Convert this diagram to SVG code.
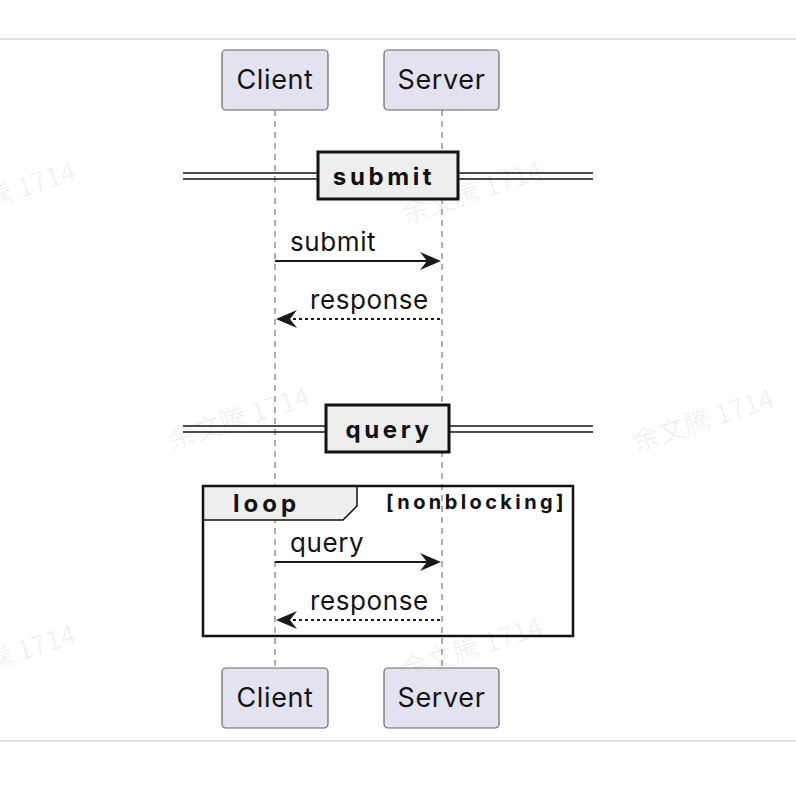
<svg xmlns="http://www.w3.org/2000/svg" width="796" height="790" viewBox="0 0 796 790">
<defs>
<style>
.bg{fill:#ffffff}
.rule{stroke:#dfe3e6;stroke-width:2}
.part rect{fill:#e2e2f0;stroke:#676767;stroke-width:1.2}
.part text{font-family:Inter,"Liberation Sans",sans-serif;font-size:27px;letter-spacing:0.6px;fill:#141414;text-anchor:middle}
.life{stroke:#7a7a7a;stroke-width:1.2;stroke-dasharray:6,5}
.msg{stroke:#1a1a1a;stroke-width:1.8;fill:none}
.dash{stroke-dasharray:3,3}
.head{fill:#1a1a1a}
.lbl{font-family:Inter,"Liberation Sans",sans-serif;font-size:26px;letter-spacing:0.6px;fill:#141414}
.divl{stroke:#111;stroke-width:1.5}
.divbox{fill:#eeeeee;stroke:#111;stroke-width:3}
.divt{font-family:Inter,"Liberation Sans",sans-serif;font-size:24px;font-weight:bold;letter-spacing:3.6px;fill:#111;text-anchor:middle}
.frame{fill:none;stroke:#111;stroke-width:2.5}
.tab{fill:#eeeeee;stroke:#111;stroke-width:1.5}
.ft{font-family:Inter,"Liberation Sans",sans-serif;font-weight:bold;fill:#111}
.wm{font-family:"Noto Sans CJK TC","Noto Sans",sans-serif;font-size:27px;fill:#000;fill-opacity:0.06}
</style>
</defs>
<rect class="bg" x="0" y="0" width="796" height="790"/>
<line class="rule" x1="0" y1="39" x2="796" y2="39"/>
<line class="rule" x1="0" y1="741" x2="796" y2="741"/>

<g id="watermarks">
<text class="wm" transform="translate(-62,225) rotate(-18)">余文騰 1714</text>
<text class="wm" transform="translate(405,224) rotate(-18)">余文騰 1714</text>
<text class="wm" transform="translate(172,450) rotate(-18)">余文騰 1714</text>
<text class="wm" transform="translate(636,452) rotate(-18)">余文騰 1714</text>
<text class="wm" transform="translate(-62,688) rotate(-18)">余文騰 1714</text>
<text class="wm" transform="translate(405,680) rotate(-18)">余文騰 1714</text>
</g>

<g id="lifelines">
<line class="life" x1="275" y1="110" x2="275" y2="668"/>
<line class="life" x1="442" y1="110" x2="442" y2="668"/>
</g>

<g id="divider-submit">
<line class="divl" x1="183" y1="173" x2="593" y2="173"/>
<line class="divl" x1="183" y1="179" x2="593" y2="179"/>
<rect class="divbox" x="318" y="152" width="140" height="47"/>
<text class="divt" x="384" y="185">submit</text>
</g>

<g id="divider-query">
<line class="divl" x1="183" y1="426" x2="593" y2="426"/>
<line class="divl" x1="183" y1="432" x2="593" y2="432"/>
<rect class="divbox" x="326" y="405" width="123" height="47"/>
<text class="divt" x="389" y="438">query</text>
</g>

<g id="loop">
<path class="tab" d="M203,486 H357 V506 L343,520 H203 Z"/>
<rect class="frame" x="203" y="486" width="370" height="150"/>
<text class="ft" x="233" y="512" font-size="24" letter-spacing="4">loop</text>
<text class="ft" x="386" y="509" font-size="20" letter-spacing="3.4">[nonblocking]</text>
</g>

<g id="connectors">
<line class="msg" x1="275" y1="261" x2="436" y2="261"/>
<path class="head" d="M441,261 L420,252 L427,261 L420,270 Z"/>
<text class="lbl" x="290" y="251">submit</text>
<line class="msg dash" x1="281" y1="319" x2="442" y2="319"/>
<path class="head" d="M276,319 L297,310 L290,319 L297,328 Z"/>
<text class="lbl" x="310" y="309">response</text>
<line class="msg" x1="275" y1="562" x2="436" y2="562"/>
<path class="head" d="M441,562 L420,553 L427,562 L420,571 Z"/>
<text class="lbl" x="290" y="552">query</text>
<line class="msg dash" x1="281" y1="620" x2="442" y2="620"/>
<path class="head" d="M276,620 L297,611 L290,620 L297,629 Z"/>
<text class="lbl" x="310" y="610">response</text>
</g>

<g id="client-top" class="part">
<rect x="222" y="50" width="106" height="60" rx="4"/>
<text x="275" y="89">Client</text>
</g>
<g id="server-top" class="part">
<rect x="384" y="50" width="115" height="60" rx="4"/>
<text x="441.5" y="89">Server</text>
</g>
<g id="client-bottom" class="part">
<rect x="222" y="668" width="106" height="60" rx="4"/>
<text x="275" y="707">Client</text>
</g>
<g id="server-bottom" class="part">
<rect x="384" y="668" width="115" height="60" rx="4"/>
<text x="441.5" y="707">Server</text>
</g>
</svg>
